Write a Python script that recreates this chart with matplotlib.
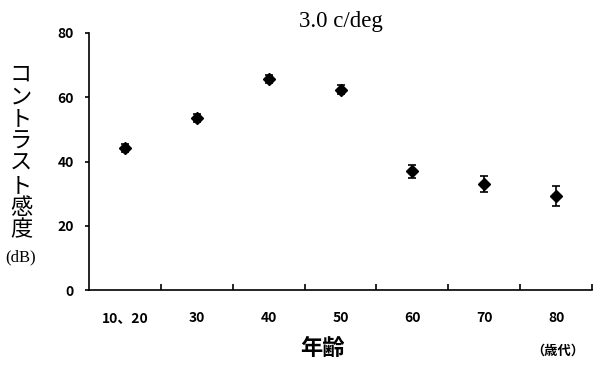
import matplotlib
matplotlib.use("Agg")
import matplotlib.pyplot as plt
import numpy as np

categories = ["10、20", "30", "40", "50", "60", "70", "80"]
sensitivity = [44.1, 53.5, 65.7, 62.4, 37.0, 32.9, 29.3]
errors = [1.2, 1.2, 1.2, 1.3, 2.0, 2.5, 3.2]
y_ticks = [0, 20, 40, 60, 80]

cjk = ["Noto Sans CJK JP", "DejaVu Sans"]

fig = plt.figure(figsize=(6.0, 3.7), dpi=100)
ax = fig.add_axes([89/600, 80/370, 503/600, 257/370])

x = np.arange(len(categories))
ax.errorbar(x, sensitivity, yerr=errors, fmt="D", color="black", ms=6.5,
            ecolor="black", elinewidth=1.2, capsize=3, capthick=1.2)

ax.set_xlim(-0.5, len(categories) - 0.5)
ax.set_ylim(0, 80)

for s in ["top", "right"]:
    ax.spines[s].set_visible(False)
for s in ["left", "bottom"]:
    ax.spines[s].set_linewidth(1.2)

# major ticks at category boundaries (no labels), category labels as minor ticks
ax.set_xticks(np.arange(0.5, len(categories)), labels=[])
ax.set_xticks(x, labels=categories, minor=True)
ax.tick_params(axis="x", which="major", direction="in", length=4, width=1.2)
ax.tick_params(axis="x", which="minor", length=0, pad=15)
for lab in ax.get_xticklabels(minor=True):
    lab.set_family(cjk)
    lab.set_fontweight("bold")
    lab.set_fontsize(10)

ax.set_yticks(y_ticks)
ax.tick_params(axis="y", direction="out", length=3, width=1.2, pad=8)
for lab in ax.get_yticklabels():
    lab.set_family(cjk)
    lab.set_fontweight("bold")
    lab.set_fontsize(10)

fig.text(341/600, 1 - 22/370, "3.0 c/deg", family="Liberation Serif",
         fontsize=16.5, ha="center", va="center")

fig.text(21/600, 1 - 152/370, "\n".join("コントラスト感度"), family=cjk,
         fontsize=16, ha="center", va="center", linespacing=0.95)
fig.text(21/600, 1 - 257/370, "(dB)", family="Liberation Serif",
         fontsize=12, ha="center", va="center")

fig.text(322/600, 1 - 348/370, "年齢", family=cjk, fontsize=16,
         fontweight="bold", ha="center", va="center")
fig.text(558/600, 1 - 351/370, "（歳代）", family=cjk, fontsize=9.5,
         fontweight="bold", ha="center", va="center")

fig.savefig("out.png", dpi=100)
